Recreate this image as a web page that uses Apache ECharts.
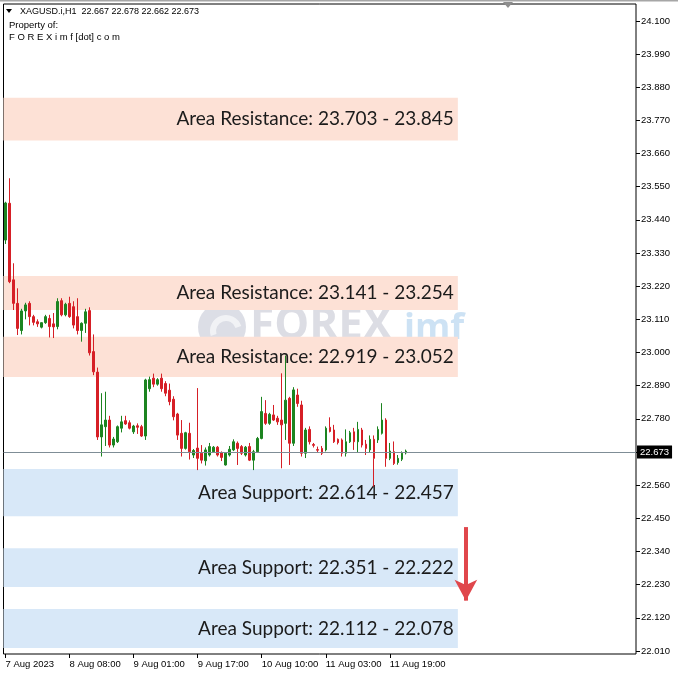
<!DOCTYPE html>
<html><head><meta charset="utf-8">
<script src="https://cdn.jsdelivr.net/npm/echarts@6/dist/echarts.min.js"></script>
<style>html,body{margin:0;padding:0;background:#fff}#c{width:678px;height:678px}</style>
</head><body><div id="c"></div>
<script>
// ---------------- data ----------------
const symbolTitle = 'XAGUSD.i,H1  22.667 22.678 22.662 22.673';
const ownerLine1 = 'Property of:';
const ownerLine2 = 'F O R E X i m f [dot] c o m';

const opens = [23.373,23.495,23.241,23.163,23.073,23.138,23.163,23.119,23.102,23.084,23.099,23.113,23.095,23.086,23.172,23.125,23.163,23.152,23.119,23.073,23.097,23.139,23.003,22.935,22.720,22.754,22.776,22.693,22.704,22.749,22.774,22.767,22.737,22.757,22.754,22.723,22.880,22.915,22.895,22.915,22.897,22.875,22.845,22.796,22.732,22.682,22.732,22.660,22.683,22.666,22.641,22.660,22.671,22.686,22.668,22.627,22.660,22.677,22.699,22.688,22.660,22.688,22.643,22.671,22.715,22.798,22.765,22.793,22.782,22.776,22.765,22.848,22.699,22.859,22.826,22.666,22.745,22.695,22.678,22.682,22.677,22.752,22.743,22.712,22.710,22.666,22.704,22.737,22.704,22.743,22.696,22.677,22.712,22.710,22.732,22.776,22.649,22.671,22.635,22.646,22.667];
const closes = [23.496,23.235,23.163,23.080,23.138,23.158,23.119,23.100,23.095,23.099,23.119,23.086,23.085,23.169,23.125,23.160,23.119,23.091,23.073,23.097,23.135,22.999,22.936,22.720,22.760,22.776,22.693,22.713,22.754,22.770,22.763,22.749,22.756,22.752,22.723,22.909,22.910,22.895,22.910,22.880,22.865,22.837,22.787,22.726,22.682,22.734,22.671,22.675,22.649,22.643,22.677,22.688,22.686,22.660,22.652,22.666,22.679,22.704,22.682,22.666,22.686,22.643,22.671,22.715,22.804,22.765,22.795,22.776,22.770,22.760,22.842,22.699,22.876,22.831,22.666,22.743,22.704,22.692,22.676,22.666,22.749,22.738,22.704,22.701,22.666,22.704,22.734,22.704,22.745,22.693,22.682,22.712,22.649,22.745,22.776,22.649,22.673,22.632,22.649,22.666,22.673];
const lows = [23.360,23.230,23.141,23.058,23.060,23.110,23.090,23.090,23.085,23.080,23.095,23.050,23.048,23.077,23.120,23.120,23.115,23.080,23.060,23.036,23.065,22.990,22.925,22.710,22.655,22.690,22.685,22.685,22.700,22.735,22.760,22.745,22.730,22.730,22.720,22.710,22.870,22.885,22.890,22.870,22.855,22.825,22.775,22.710,22.655,22.678,22.645,22.650,22.610,22.632,22.625,22.655,22.668,22.655,22.640,22.625,22.655,22.673,22.627,22.660,22.655,22.640,22.610,22.668,22.712,22.760,22.760,22.773,22.760,22.616,22.710,22.627,22.690,22.820,22.655,22.650,22.695,22.685,22.670,22.660,22.672,22.735,22.700,22.695,22.655,22.655,22.700,22.677,22.670,22.685,22.660,22.670,22.555,22.700,22.728,22.621,22.643,22.627,22.628,22.640,22.662];
const highs = [23.500,23.578,23.296,23.213,23.145,23.165,23.170,23.125,23.110,23.100,23.125,23.125,23.131,23.180,23.180,23.165,23.185,23.170,23.180,23.100,23.145,23.150,23.060,22.950,22.865,22.870,22.790,22.720,22.758,22.790,22.790,22.775,22.760,22.765,22.760,22.913,22.920,22.930,22.915,22.930,22.905,22.897,22.855,22.800,22.776,22.737,22.767,22.680,22.882,22.693,22.685,22.700,22.690,22.690,22.672,22.670,22.690,22.712,22.705,22.693,22.690,22.700,22.677,22.720,22.853,22.842,22.800,22.826,22.790,22.931,22.990,22.853,22.885,22.880,22.840,22.750,22.755,22.700,22.688,22.690,22.755,22.785,22.760,22.715,22.715,22.745,22.740,22.750,22.770,22.750,22.710,22.725,22.725,22.755,22.832,22.782,22.700,22.705,22.660,22.672,22.678];

const firstBarTime = '2023-08-07T15:00';   // first hourly bar shown
const xTickLabels = ['7 Aug 2023','8 Aug 08:00','9 Aug 01:00','9 Aug 17:00','10 Aug 10:00','11 Aug 03:00','11 Aug 19:00'];
const yTickValues = [22.010,22.120,22.230,22.340,22.450,22.560,22.670,22.780,22.890,23.000,23.110,23.220,23.330,23.440,23.550,23.660,23.770,23.880,23.990,24.100];
const yTickLabels = ['22.010','22.120','22.230','22.340','22.450','22.560',null,'22.780','22.890','23.000','23.110','23.220','23.330','23.440','23.550','23.660','23.770','23.880','23.990','24.100'];

const zoneLabels = ['Area Resistance: 23.703 - 23.845','Area Resistance: 23.141 - 23.254','Area Resistance: 22.919 - 23.052','Area Support: 22.614 - 22.457','Area Support: 22.351 - 22.222','Area Support: 22.112 - 22.078'];
const zoneHigh = [23.845, 23.254, 23.052, 22.614, 22.351, 22.149];
const zoneLow  = [23.703, 23.141, 22.919, 22.457, 22.222, 22.020];
const zoneKind = ['res','res','res','sup','sup','sup'];

const lastPrice = 22.673;
const arrowStart = 22.421, arrowEnd = 22.177;

// ---------------- layout / style ----------------
const emptySlots = 57;       // chart shift area on the right
const tickEvery = 16;
const zoneEndSlot = 113;
const arrowSlot = 115;
const GREEN = '#1c8420', RED = '#d61f26';
const RES_COLOR = '#fde1d6', SUP_COLOR = '#d8e8f8';

// categories: hourly bars (no 00:00 bar - daily break)
const cats = [];
{
  let t = new Date(firstBarTime + ':00Z').getTime();
  for (let i = 0; i < opens.length; i++) {
    const d = new Date(t);
    cats.push(d.toISOString().slice(0, 16));
    t += 3600000;
    if (new Date(t).getUTCHours() === 0) t += 3600000;
  }
  for (let k = 0; k < emptySlots; k++) cats.push('slot' + k);
}
const candleData = opens.map((o, i) => [o, closes[i], lows[i], highs[i]]);
for (let k = 0; k < emptySlots; k++) candleData.push('-');

const isTick = (i) => i % tickEvery === 0 && i / tickEvery < xTickLabels.length;

const zones = zoneLabels.map((lab, i) => [
  { yAxis: zoneHigh[i], itemStyle: { color: zoneKind[i] === 'res' ? RES_COLOR : SUP_COLOR },
    label: { show: true, formatter: lab } },
  { xAxis: zoneEndSlot, yAxis: zoneLow[i] }
]);

const chart = echarts.init(document.getElementById('c'), null, { renderer: 'canvas' });
chart.setOption({
  animation: false,
  backgroundColor: '#ffffff',
  grid: { left: 3.5, right: 42, top: 4, bottom: 24, show: true, borderColor: '#000', borderWidth: 1, backgroundColor: '#fff' },
  xAxis: {
    type: 'category', data: cats, boundaryGap: true,
    axisLine: { show: false },
    axisTick: { show: true, interval: (i) => isTick(i), alignWithLabel: true, length: 4, lineStyle: { color: '#000' } },
    axisLabel: { interval: (i) => isTick(i), formatter: (v, i) => xTickLabels[i / tickEvery] || '',
      align: 'left', margin: 5, fontSize: 9.5, fontFamily: 'Liberation Sans', color: '#000' },
    splitLine: { show: false }
  },
  yAxis: {
    type: 'value', position: 'right', min: 22.0, max: 24.156, scale: true,
    axisLine: { show: false }, splitLine: { show: false },
    axisTick: { show: true, customValues: yTickValues, length: 4, lineStyle: { color: '#000' } },
    axisLabel: { customValues: yTickValues, margin: 5, fontSize: 9.5, fontFamily: 'Liberation Sans', color: '#000',
      formatter: (v) => { const k = yTickValues.findIndex(t => Math.abs(t - v) < 1e-6); return k >= 0 && yTickLabels[k] ? yTickLabels[k] : ''; } }
  },
  series: [{
    type: 'candlestick', data: candleData, barWidth: 2,
    itemStyle: { color: GREEN, color0: RED, borderColor: GREEN, borderColor0: RED, borderWidth: 1 },
    markArea: {
      silent: true, z: 1,
      label: { position: 'insideRight', distance: 4, fontSize: 19, fontFamily: 'Lato', color: '#1b1b1b' },
      data: zones
    },
    markLine: {
      silent: true, symbol: ['none', 'none'], animation: false,
      data: [
        { yAxis: lastPrice, lineStyle: { color: '#7f8d96', width: 1, type: 'solid' },
          label: { show: true, position: 'end', distance: 1, formatter: lastPrice.toFixed(3), backgroundColor: '#000', color: '#fff',
            padding: [2, 3, 1, 3], fontSize: 9.5, fontFamily: 'Liberation Sans' } },
        [
          { coord: [arrowSlot, arrowStart], symbol: 'none', lineStyle: { color: '#e0474c', width: 4, type: 'solid' }, label: { show: false } },
          { coord: [arrowSlot, arrowEnd], symbol: 'arrow', symbolSize: [17, 21] }
        ]
      ]
    }
  }],
  graphic: [
    { type: 'rect', shape: { x: 0, y: 0, width: 678, height: 1.5 }, style: { fill: '#a6a6a6' }, silent: true },
    { type: 'polygon', shape: { points: [[503, 2], [513, 2], [508, 8]] }, style: { fill: '#8d8d8d' }, silent: true },
    { type: 'polygon', shape: { points: [[6, 9], [12, 9], [9, 13]] }, style: { fill: '#000' }, silent: true },
    { type: 'text', left: 20, top: 7, style: { text: symbolTitle, fontSize: 9, fontFamily: 'Liberation Sans', fill: '#000' }, silent: true },
    { type: 'text', left: 9, top: 20, style: { text: ownerLine1, fontSize: 9.5, fontFamily: 'Liberation Sans', fill: '#000' }, silent: true },
    { type: 'text', left: 9, top: 32, style: { text: ownerLine2, fontSize: 9.5, fontFamily: 'Liberation Sans', fill: '#000' }, silent: true },
    { type: 'group', z: 100, silent: true, children: [
      { type: 'circle', shape: { cx: 222, cy: 327, r: 24 }, style: { fill: 'rgba(120,128,160,0.26)' } },
      { type: 'arc', shape: { cx: 226, cy: 331, r: 13, startAngle: Math.PI * 0.9, endAngle: Math.PI * 1.9 }, style: { stroke: 'rgba(255,255,255,0.6)', lineWidth: 6, fill: 'none' } },
      { type: 'text', x: 250, y: 304, style: { text: 'FOREX', fontSize: 44, fontWeight: 'bold', fontFamily: 'Open Sans', fill: 'rgba(120,125,150,0.26)' } },
      { type: 'text', x: 404, y: 311, style: { text: 'imf', fontSize: 36, fontWeight: 'bold', fontFamily: 'Open Sans', fill: 'rgba(90,160,220,0.30)' } }
    ] }
  ]
});
</script></body></html>
